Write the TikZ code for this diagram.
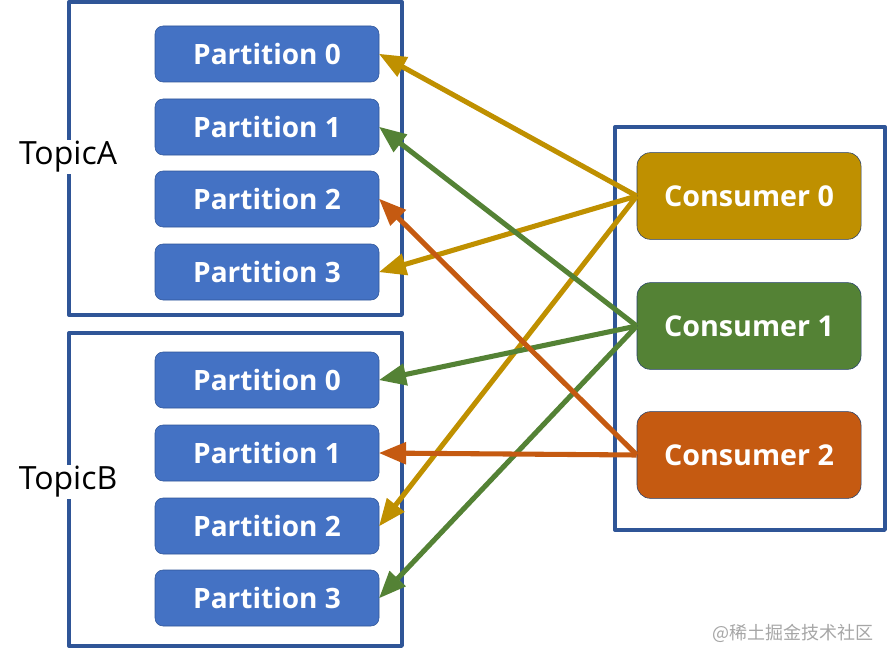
\documentclass[tikz,border=0pt]{standalone}
\usepackage{fontspec}
\setmainfont{Open Sans}
\newfontfamily\cjk{Noto Sans CJK SC}
\usetikzlibrary{arrows}
\definecolor{partblue}{HTML}{4472C4}
\definecolor{frameblue}{HTML}{2F5597}
\definecolor{gold}{HTML}{BF9000}
\definecolor{leaf}{HTML}{548235}
\definecolor{rust}{HTML}{C55A11}

\begin{document}
\begin{tikzpicture}[x=0.75pt,y=-0.75pt,>=triangle 45,line join=round,
  part/.style={draw=frameblue,fill=partblue,rounded corners=6pt,minimum width=168pt,minimum height=42pt,text=white,font=\fontsize{21}{24}\selectfont\bfseries},
  cons/.style={draw=frameblue!70!black,rounded corners=10pt,minimum width=168pt,minimum height=65pt,text=white,font=\fontsize{21.5}{24}\selectfont\bfseries},
  frame/.style={draw=frameblue,line width=2.5pt},
  topic/.style={fill=white,inner sep=1pt,font=\fontsize{24}{28}\selectfont},
  link/.style={line width=3.8pt,->}]
\useasboundingbox (0,0) rectangle (887,649);
%\fill[white] (0,0) rectangle (887,649);
\draw[frame] (69,2) rectangle (402,315);
\draw[frame] (69,333) rectangle (402,646);
\draw[frame] (615,127) rectangle (885,530);
\node[topic] (ta) at (68,157) {TopicA};
\node[topic] (tb) at (68,482) {TopicB};
\foreach \i/\y in {0/54,1/127,2/199,3/272}
  \node[part] (pa\i) at (267,\y) {Partition \i};
\foreach \i/\y in {0/380,1/453,2/526,3/598}
  \node[part] (pb\i) at (267,\y) {Partition \i};
\node[cons,fill=gold] (c0) at (749,196) {Consumer 0};
\node[cons,fill=leaf] (c1) at (749,326) {Consumer 1};
\node[cons,fill=rust] (c2) at (749,455) {Consumer 2};
% consumer 0
\draw[link,gold] (c0.west) -- (pa0.east);
\draw[link,gold] (c0.west) -- (pa3.east);
\draw[link,gold] (c0.west) -- (pb2.east);
% consumer 1
\draw[link,leaf] (c1.west) -- (pa1.east);
\draw[link,leaf] (c1.west) -- (pb0.east);
\draw[link,leaf] (c1.west) -- (pb3.east);
% consumer 2
\draw[link,rust] (c2.west) -- (pa2.east);
\draw[link,rust] (c2.west) -- (pb1.east);
\node[text=black!35,font=\cjk\fontsize{13.5}{16}\selectfont] (wm) at (793,633) {@稀土掘金技术社区};
\end{tikzpicture}
\end{document}
